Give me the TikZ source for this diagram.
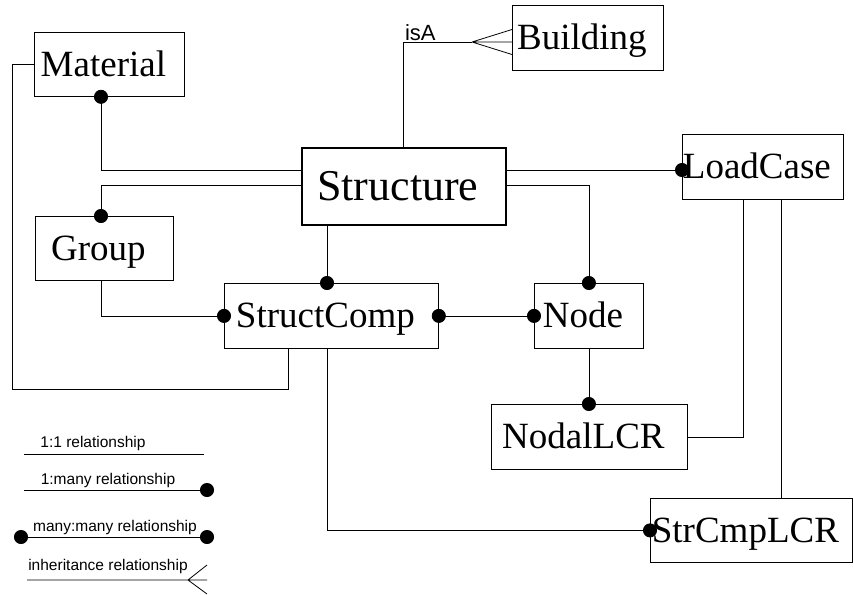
\documentclass[tikz,border=0pt]{standalone}
\usepackage{fontspec}
\setmainfont{Liberation Serif}
\newfontfamily\legendfont{Liberation Sans}
\usetikzlibrary{arrows.meta, calc}

\begin{document}
\begin{tikzpicture}[x=1pt, y=-1pt,
    entity/.style={rectangle, draw, line width=0.8pt, anchor=north west, inner sep=0pt,
                   text height=24pt, text depth=0pt, font=\fontsize{37}{40}\selectfont,
                   execute at begin node={\kern-12pt}},
    link/.style={line width=0.8pt},
    dotend/.style={link, -{Circle[length=14pt]}, shorten >=-7pt},
    dotboth/.style={link, {Circle[length=14pt]}-{Circle[length=14pt]},
                    shorten <=-7pt, shorten >=-7pt},
    legend/.style={font=\legendfont\fontsize{15.5}{18}\selectfont, inner sep=0pt}
]
    \useasboundingbox (0,0) rectangle (853,594);

    % Entities
    \node[entity, minimum width=151pt, minimum height=65pt] (building) at (512,5) {Building};
    \node[entity, minimum width=150pt, minimum height=64pt] (material) at (34,32) {Material};
    \node[entity, line width=1.6pt, minimum width=204pt, minimum height=77pt,
          text height=29pt, font=\fontsize{44}{48}\selectfont] (structure) at (301,147) {Structure};
    \node[entity, minimum width=161pt, minimum height=65pt] (loadcase) at (682,134) {LoadCase};
    \node[entity, minimum width=138pt, minimum height=64pt] (group) at (35,216) {Group};
    \node[entity, minimum width=214pt, minimum height=65pt] (structcomp) at (224,283) {StructComp};
    \node[entity, minimum width=109pt, minimum height=65pt] (node) at (534,283) {Node};
    \node[entity, minimum width=196pt, minimum height=65pt] (nodallcr) at (491,404) {NodalLCR};
    \node[entity, minimum width=202pt, minimum height=64pt] (strcmplcr) at (650,498) {StrCmpLCR};

    % Helper columns and rows for the routed links
    \coordinate (matx) at (101,0);
    \coordinate (scx) at (327,0);
    \coordinate (loopx) at (288,0);
    \coordinate (leftx) at (12,0);
    \coordinate (lcax) at (743,0);
    \coordinate (lcbx) at (781,0);
    \coordinate (toprow) at (0,170);
    \coordinate (midrow) at (0,185);
    \coordinate (looprow) at (0,389);
    \coordinate (isafoot) at (472,42);

    % Inheritance: Structure isA Building
    \draw[link] (structure.north) |- (isafoot);
    \draw[link] (isafoot) -- (building.west |- isafoot)
        (isafoot) -- ($(building.west |- isafoot)+(0,-12.5)$)
        (isafoot) -- ($(building.west |- isafoot)+(0,12.5)$);
    \node[font=\legendfont\fontsize{22}{24}\selectfont, anchor=south west, inner sep=1pt]
        (isalabel) at (structure.north |- isafoot) {isA};

    % Links around Structure
    \draw[dotend] (structure.west |- toprow) -| (material.south -| matx);
    \draw[dotend] (structure.west |- midrow) -| (group.north -| matx);
    \draw[dotend] (structure.east |- toprow) -- (loadcase.west |- toprow);
    \draw[dotend] (structure.east |- midrow) -| (node.north);
    \draw[dotend] (structure.south -| scx) -- (structcomp.north -| scx);

    % Links around StructComp
    \draw[link] (material.west) -| (leftx |- looprow) -| (structcomp.south -| loopx);
    \draw[dotend] (group.south -| matx) |- (structcomp.west);
    \draw[dotboth] (structcomp.east) -- (node.west);
    \draw[dotend] (structcomp.south -| scx) |- (strcmplcr.west);

    % Load case results
    \draw[dotend] (node.south) -- (nodallcr.north -| node.south);
    \draw[link] (nodallcr.east) -| (loadcase.south -| lcax);
    \draw[link] (loadcase.south -| lcbx) -- (strcmplcr.north -| lcbx);

    % Legend
    \coordinate (oneA) at (24,454);
    \coordinate (oneB) at (204,454);
    \node[legend] (onetxt) at (93,443) {1:1 relationship};
    \draw[link] (oneA) -- (oneB);

    \coordinate (manyA) at (24,490);
    \coordinate (manyB) at (207,490);
    \node[legend] (manytxt) at (108,480) {1:many relationship};
    \draw[dotend] (manyA) -- (manyB);

    \coordinate (mmA) at (21,537);
    \coordinate (mmB) at (207,537);
    \node[legend] (mmtxt) at (115,527) {many:many relationship};
    \draw[dotboth] (mmA) -- (mmB);

    \coordinate (inhA) at (27,580);
    \coordinate (inhB) at (207,580);
    \coordinate (inhC) at (188,580);
    \node[legend] (inhtxt) at (108,566) {inheritance relationship};
    \draw[link] (inhA) -- (inhB)
        (inhC) -- ($(inhB)+(0,-15)$)
        (inhC) -- ($(inhB)+(0,14)$);
\end{tikzpicture}
\end{document}
